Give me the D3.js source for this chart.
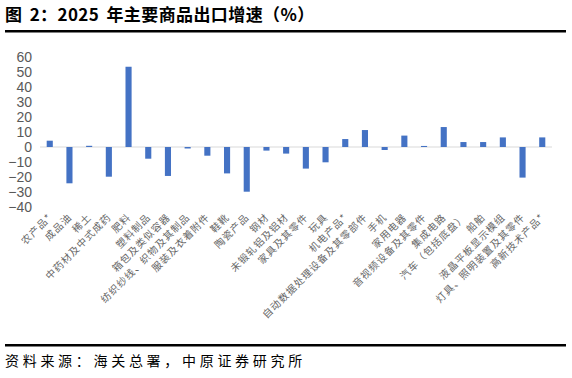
<!DOCTYPE html>
<html><head><meta charset="utf-8">
<script src="https://cdn.jsdelivr.net/npm/d3@7"></script>
<style>
body{margin:0;background:#fff;}
svg{display:block;}
</style></head>
<body>
<script>
const categories = ["农产品*","成品油","稀土","中药材及中式成药","肥料","塑料制品","箱包及类似容器","纺织纱线、织物及其制品","服装及衣着附件","鞋靴","陶瓷产品","钢材","未锻轧铝及铝材","家具及其零件","玩具","机电产品*","自动数据处理设备及其零部件","手机","家用电器","音视频设备及其零件","集成电路","汽车（包括底盘）","船舶","液晶平板显示模组","灯具、照明装置及其零件","高新技术产品*"];
const growth = [4.2,-24.2,0.8,-19.8,53.5,-7.8,-19.3,-1.0,-5.8,-17.6,-29.8,-2.4,-4.4,-14.4,-10.2,5.3,11.3,-2.0,7.6,0.7,13.3,3.3,3.3,6.4,-20.4,6.4];
const yTicks = [60,50,40,30,20,10,0,-10,-20,-30,-40];
const titleText = "图 2：2025 年主要商品出口增速（%）";
const sourceText = "资料来源：海关总署，中原证券研究所";

const W = 572, H = 378;
const svg = d3.select("body").append("svg").attr("width", W).attr("height", H);

svg.append("text").attr("x", 5).attr("y", 21).text(titleText)
  .attr("font-family","'Noto Sans CJK SC'").attr("font-weight","bold").attr("font-size",17)
  .attr("letter-spacing",0.4).attr("word-spacing",3).attr("fill","#000");
svg.append("rect").attr("x",5).attr("y",30).attr("width",561).attr("height",2.5).attr("fill","#000");

const x = d3.scaleBand().domain(categories).range([40, 552]).paddingInner(0.69).paddingOuter(0.34);
const y = d3.scaleLinear().domain([-40, 60]).range([207, 57]);

const yAxis = svg.append("g").attr("transform","translate(34,0)")
  .call(d3.axisLeft(y).tickValues(yTicks).tickSize(0).tickPadding(2).tickFormat(d3.format("d")));
yAxis.select(".domain").remove();
yAxis.selectAll("text").attr("font-family","'Liberation Sans', Arial, sans-serif").attr("font-size",14).attr("fill","#595959");

svg.append("line").attr("x1",40).attr("x2",552).attr("y1",y(0)).attr("y2",y(0))
  .attr("stroke","#d9d9d9").attr("stroke-width",1);

svg.selectAll("rect.bar").data(growth).enter().append("rect").attr("class","bar")
  .attr("x",(d,i)=>x(categories[i]))
  .attr("width",x.bandwidth())
  .attr("y",d=>y(Math.max(0,d)))
  .attr("height",d=>Math.abs(y(d)-y(0)))
  .attr("fill","#4472C4");

svg.selectAll("text.cat").data(categories).enter().append("text").attr("class","cat")
  .attr("transform",d=>`translate(${x(d)+x.bandwidth()/2+3},${218}) rotate(-45)`)
  .attr("text-anchor","end")
  .attr("font-family","'Noto Sans CJK SC'").attr("font-size",10).attr("letter-spacing",1)
  .attr("fill","#666")
  .text(d=>d);

svg.append("rect").attr("x",5).attr("y",344).attr("width",561).attr("height",2.5).attr("fill","#000");
svg.append("text").attr("x",5).attr("y",366).text(sourceText)
  .attr("font-family","'Noto Sans CJK SC'").attr("font-size",14).attr("letter-spacing",3.7).attr("fill","#000");
</script>
</body></html>
